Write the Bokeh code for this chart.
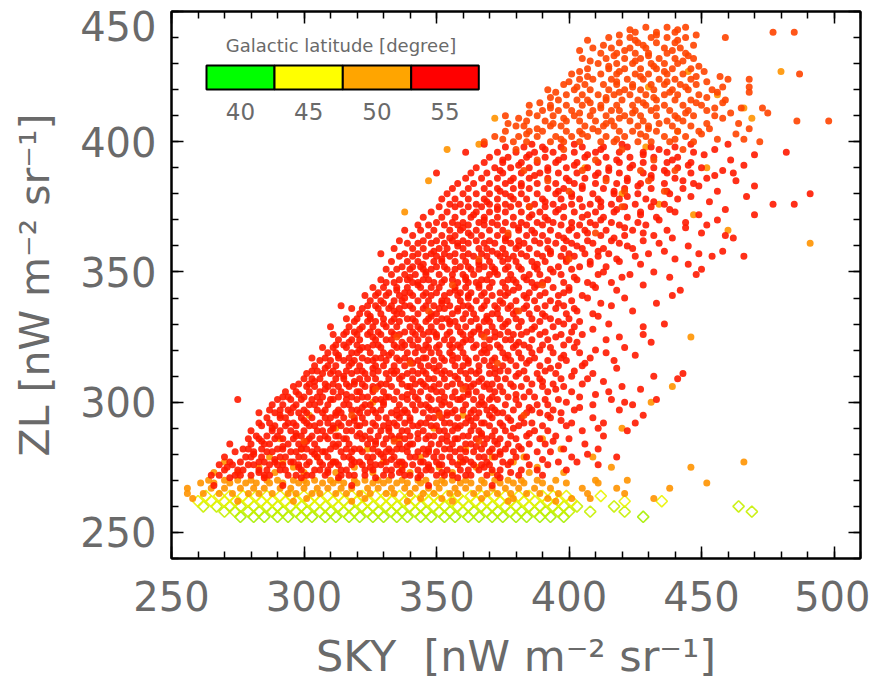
import numpy as np
from bokeh.plotting import figure
from bokeh.models import (LinearAxis, SingleIntervalTicker, FixedTicker, Label,
                          CustomJSTickFormatter)
from bokeh.embed import file_html
from bokeh.resources import INLINE

# ---------------- data ----------------
# rows of points: (ZL, [SKY values ...])
red_rows = [
    (268, [266, 292, 318, 347, 371]),
    (271, [272, 285, 299, 313, 327, 343, 358, 374]),
    (272, [265, 268, 274, 276, 280, 285, 287, 294, 297, 301, 303, 308, 314, 317, 319, 323, 330, 333, 338, 340, 344, 350, 353, 356, 361, 363, 369, 373, 381, 390]),
    (274, [270, 275, 277, 283, 286, 291, 293, 299, 304, 306, 309, 314, 316, 323, 326, 331, 333, 337, 343, 346, 348, 354, 359, 362, 366, 371, 374, 382, 388, 399]),
    (276, [268, 273, 279, 281, 287, 290, 292, 298, 301, 307, 310, 313, 318, 322, 327, 329, 335, 338, 341, 347, 351, 352, 358, 364, 367, 370, 377, 385, 392, 411]),
    (277, [272, 276, 283, 285, 289, 295, 296, 302, 306, 311, 312, 319, 321, 325, 331, 336, 337, 344, 345, 350, 356, 360, 363, 369, 375, 378, 396, 403]),
    (279, [270, 278, 280, 284, 291, 293, 298, 300, 305, 309, 315, 317, 324, 326, 330, 334, 340, 342, 349, 352, 355, 359, 366, 368, 372, 380, 384, 401, 418]),
    (281, [274, 281, 286, 288, 295, 297, 303, 307, 308, 314, 318, 322, 328, 331, 333, 339, 343, 347, 350, 357, 361, 364, 370, 374, 379, 388, 393]),
    (282, [277, 279, 284, 290, 292, 299, 301, 305, 310, 316, 319, 321, 326, 332, 335, 337, 345, 347, 353, 355, 359, 367, 371, 376, 382, 398, 411]),
    (284, [272, 280, 285, 287, 294, 298, 300, 304, 311, 313, 317, 324, 327, 330, 336, 340, 341, 348, 351, 356, 361, 363, 368, 373, 377, 385, 391, 406]),
    (286, [279, 283, 289, 292, 296, 302, 306, 309, 315, 316, 322, 325, 331, 334, 338, 343, 346, 352, 357, 358, 365, 369, 374, 380, 389, 400]),
    (287, [282, 286, 290, 297, 299, 303, 308, 312, 313, 320, 323, 328, 333, 336, 340, 347, 349, 354, 360, 362, 367, 371, 378, 384, 395, 413]),
    (289, [280, 288, 291, 295, 300, 305, 307, 310, 316, 318, 325, 329, 332, 337, 339, 345, 351, 353, 356, 363, 366, 372, 376, 387, 392, 405, 422]),
    (291, [284, 289, 293, 297, 302, 304, 311, 314, 320, 321, 327, 330, 335, 341, 343, 348, 350, 357, 359, 364, 370, 375, 381, 390, 399]),
    (292, [283, 287, 294, 296, 301, 306, 309, 313, 317, 323, 326, 332, 334, 338, 344, 346, 353, 355, 361, 367, 368, 374, 383, 386, 401, 413, 425]),
    (294, [286, 291, 293, 299, 303, 308, 310, 315, 319, 322, 328, 331, 336, 340, 347, 349, 352, 358, 362, 365, 371, 377, 382, 393, 409]),
    (296, [283, 289, 295, 298, 301, 307, 312, 314, 321, 324, 327, 333, 337, 339, 345, 351, 354, 356, 363, 366, 373, 375, 384, 389, 397]),
    (297, [287, 291, 294, 300, 305, 308, 313, 318, 320, 326, 329, 335, 338, 342, 348, 350, 357, 360, 364, 369, 372, 379, 386, 394, 402, 419]),
    (299, [288, 292, 297, 302, 304, 309, 315, 317, 323, 325, 330, 336, 341, 344, 346, 352, 355, 361, 366, 368, 376, 381, 388, 392, 409, 424]),
    (301, [275, 290, 295, 299, 303, 310, 311, 316, 320, 327, 329, 334, 339, 343, 348, 351, 358, 359, 364, 370, 373, 380, 391, 396, 416, 433]),
    (302, [292, 294, 300, 305, 307, 313, 318, 322, 324, 331, 332, 337, 342, 347, 353, 356, 360, 367, 371, 377, 383, 387, 404]),
    (304, [293, 297, 302, 306, 311, 314, 320, 321, 326, 330, 335, 341, 344, 350, 352, 357, 362, 365, 372, 375, 385, 392, 401, 415]),
    (306, [296, 301, 304, 309, 313, 317, 323, 326, 328, 333, 339, 340, 346, 349, 354, 361, 363, 368, 374, 379, 382, 390, 398, 420]),
    (307, [298, 302, 308, 311, 316, 319, 322, 329, 331, 337, 342, 345, 351, 356, 359, 364, 369, 371, 378, 386, 394, 405]),
    (309, [300, 303, 306, 312, 315, 321, 324, 327, 332, 336, 341, 347, 349, 353, 358, 362, 367, 373, 376, 384, 389, 397, 407, 441]),
    (311, [301, 307, 310, 313, 318, 323, 326, 331, 334, 339, 343, 346, 352, 355, 361, 365, 370, 372, 381, 388, 395, 409, 443]),
    (312, [303, 305, 311, 316, 320, 322, 328, 333, 335, 341, 345, 350, 353, 359, 363, 366, 374, 377, 383, 391, 402]),
    (314, [304, 309, 312, 317, 321, 327, 330, 334, 338, 344, 347, 351, 357, 360, 366, 370, 375, 380, 389, 396, 405]),
    (316, [306, 310, 315, 319, 324, 326, 331, 336, 340, 343, 349, 353, 356, 362, 368, 371, 378, 385, 392, 399, 417]),
    (317, [303, 308, 313, 317, 322, 327, 329, 335, 338, 345, 346, 352, 358, 361, 365, 372, 376, 382, 387, 397, 408]),
    (319, [309, 312, 318, 320, 325, 330, 333, 339, 342, 348, 351, 355, 360, 367, 369, 375, 381, 386, 394, 404, 414]),
    (321, [307, 311, 316, 322, 324, 329, 335, 337, 343, 347, 350, 356, 359, 364, 370, 374, 379, 385, 393, 402, 421]),
    (322, [312, 315, 320, 326, 328, 334, 338, 341, 346, 351, 355, 358, 365, 368, 373, 380, 383, 390, 398]),
    (324, [313, 318, 321, 327, 331, 333, 340, 343, 347, 353, 356, 361, 363, 370, 376, 378, 386, 392, 400, 414]),
    (326, [311, 315, 320, 324, 329, 334, 336, 342, 345, 350, 354, 360, 363, 367, 374, 379, 382, 389, 397, 405, 428]),
    (327, [316, 319, 325, 328, 333, 338, 341, 347, 349, 355, 359, 364, 369, 372, 377, 384, 391, 401]),
    (329, [310, 317, 322, 326, 331, 335, 340, 343, 348, 352, 358, 361, 366, 371, 375, 381, 387, 394, 402, 428]),
    (331, [319, 324, 327, 333, 336, 342, 346, 350, 355, 357, 363, 368, 370, 377, 382, 389, 396, 404]),
    (332, [316, 320, 325, 330, 334, 339, 341, 347, 352, 354, 360, 365, 369, 374, 380, 386, 393, 400]),
    (334, [321, 324, 329, 335, 337, 343, 348, 350, 356, 361, 364, 371, 373, 379, 385, 390, 399, 409]),
    (336, [318, 322, 328, 332, 336, 341, 345, 351, 353, 358, 363, 367, 373, 377, 383, 388, 395, 402]),
    (337, [314, 324, 327, 333, 338, 340, 346, 349, 355, 360, 362, 368, 372, 378, 384, 391, 398, 416]),
    (339, [325, 329, 334, 337, 343, 347, 352, 354, 359, 365, 369, 374, 380, 387, 393, 401]),
    (341, [323, 327, 331, 336, 341, 345, 348, 353, 358, 362, 367, 371, 376, 383, 389, 396, 405, 439]),
    (342, [328, 332, 338, 340, 346, 350, 355, 359, 363, 368, 374, 377, 385, 391, 398]),
    (344, [326, 330, 335, 339, 344, 348, 351, 357, 361, 366, 370, 376, 381, 387, 394, 400, 410]),
    (346, [331, 334, 341, 343, 349, 352, 358, 362, 365, 371, 375, 380, 386, 390, 398, 407, 416]),
    (347, [329, 336, 339, 345, 347, 353, 356, 361, 367, 369, 377, 379, 384, 392, 403]),
    (349, [333, 338, 342, 346, 351, 356, 360, 364, 370, 373, 378, 385, 389, 397, 411, 423, 448]),
    (351, [331, 335, 340, 345, 348, 354, 357, 363, 366, 372, 376, 382, 388, 393, 401, 450]),
    (352, [337, 341, 344, 350, 353, 359, 362, 368, 371, 377, 381, 387, 396, 404, 414]),
    (354, [333, 339, 343, 349, 352, 357, 361, 366, 370, 375, 380, 386, 391, 399, 408, 419]),
    (356, [336, 341, 346, 350, 355, 360, 364, 369, 374, 379, 384, 390, 397, 402, 411, 425, 454, 466]),
    (357, [329, 338, 343, 348, 353, 357, 362, 367, 373, 376, 382, 388, 393, 400, 406, 415, 430, 449]),
    (359, [334, 341, 345, 351, 354, 360, 366, 369, 375, 380, 385, 392, 398, 405, 413, 424]),
    (361, [339, 343, 348, 353, 358, 362, 368, 372, 378, 383, 389, 395, 401, 409, 419, 434]),
    (362, [336, 345, 350, 356, 360, 365, 370, 376, 381, 387, 392, 399, 407, 416, 428]),
    (364, [341, 347, 352, 357, 363, 367, 373, 377, 384, 390, 396, 403, 412, 421, 432, 459]),
    (366, [338, 344, 349, 355, 359, 365, 370, 375, 381, 386, 393, 400, 406, 414, 424, 437]),
    (368, [343, 347, 353, 358, 362, 368, 373, 379, 384, 390, 397, 404, 410, 419, 429, 452]),
    (369, [350, 356, 360, 366, 371, 376, 382, 388, 394, 401, 408, 416, 426, 444]),
    (371, [345, 352, 357, 363, 368, 373, 379, 385, 391, 398, 405, 413, 422, 433]),
    (373, [348, 354, 360, 365, 370, 376, 382, 389, 395, 402, 410, 417, 427, 440]),
    (375, [351, 357, 362, 367, 373, 378, 385, 391, 398, 405, 412, 421, 431]),
    (376, [355, 359, 365, 370, 376, 381, 387, 394, 401, 408, 416, 425, 436, 477, 485]),
    (378, [352, 357, 362, 368, 373, 379, 384, 390, 397, 404, 411, 419, 429, 441]),
    (380, [354, 360, 365, 370, 376, 382, 388, 395, 401, 409, 417, 426, 438, 491]),
    (382, [356, 362, 368, 373, 379, 385, 392, 398, 405, 413, 421, 431, 443]),
    (384, [358, 364, 370, 376, 382, 388, 395, 402, 410, 418, 427, 436, 447]),
    (386, [361, 367, 373, 379, 385, 392, 399, 406, 414, 422, 431, 440, 452]),
    (388, [350, 363, 369, 375, 382, 389, 396, 403, 411, 419, 428, 437, 446, 462]),
    (390, [365, 372, 378, 385, 392, 399, 407, 415, 423, 432, 441, 450]),
    (392, [368, 375, 382, 388, 395, 403, 411, 419, 428, 437, 446]),
    (394, [370, 377, 384, 391, 398, 406, 414, 423, 432, 441]),
    (396, [361, 373, 380, 387, 394, 402, 410, 419, 428, 437, 447, 482]),
    (398, [376, 383, 390, 397, 405, 413, 422, 431, 440]),
]

# extra red points lying between the rows above
red_fill_rows = [
    (273, [283, 309, 336, 352, 378]), (275, [271, 298, 325, 347, 368]),
    (278, [289, 318, 333, 361, 390]), (280, [281, 304, 329, 346, 374, 407]),
    (283, [292, 312, 339, 365, 381]), (285, [284, 301, 327, 354, 372, 394]),
    (288, [297, 321, 343, 367, 385]), (290, [288, 311, 332, 358, 379, 411]),
    (293, [300, 319, 340, 363, 378, 397]), (295, [291, 312, 335, 354, 370, 392, 428]),
    (298, [296, 322, 347, 371, 385, 404]), (300, [306, 330, 353, 367, 399, 421]),
    (303, [298, 316, 339, 362, 380, 410]), (305, [308, 326, 348, 370, 395, 427]),
    (308, [304, 319, 344, 366, 390, 413]), (310, [315, 337, 357, 380, 401, 432]),
    (313, [308, 326, 349, 372, 393, 418]), (315, [318, 341, 362, 384, 406]),
    (318, [313, 332, 356, 377, 398, 425]), (320, [321, 345, 368, 389, 410]),
    (323, [317, 337, 360, 381, 403, 431]), (325, [326, 350, 372, 395, 419]),
    (328, [321, 344, 366, 386, 409]), (330, [330, 355, 376, 398, 415, 436]),
    (333, [325, 348, 369, 391, 411]), (335, [334, 358, 380, 403, 424]),
    (338, [330, 352, 375, 396, 412, 433]), (340, [338, 362, 384, 407, 421]),
    (343, [335, 357, 379, 400, 418, 442]), (345, [343, 366, 388, 409, 428]),
    (348, [340, 361, 383, 402, 420, 438]), (350, [346, 372, 394, 413, 432]),
    (353, [345, 366, 388, 408, 427, 445]), (355, [352, 377, 399, 418, 440]),
    (358, [349, 371, 393, 411, 436, 458]), (360, [358, 381, 403, 422, 445]),
    (363, [355, 376, 398, 417, 439, 462]), (365, [362, 387, 407, 428, 450]),
    (367, [360, 381, 401, 421, 444]), (370, [368, 392, 412, 434, 456]),
    (372, [364, 386, 407, 427, 449, 470]), (374, [373, 396, 418, 438, 459]),
    (377, [369, 391, 412, 432, 453]), (379, [378, 401, 422, 446, 467]),
    (381, [374, 396, 417, 437, 456]), (383, [382, 405, 426, 449, 470]),
    (385, [378, 400, 422, 443, 463]), (387, [387, 410, 431, 455]),
    (389, [374, 392, 415, 436, 458]), (391, [381, 402, 424, 445, 466]),
    (393, [375, 396, 418, 439, 461]), (395, [385, 407, 428, 451, 470]),
    (397, [391, 412, 434, 455]), (399, [368, 386, 402, 420, 446, 460]),
]

mid_rows = [
    (285, [300, 334, 366]), (295, [318, 351, 383]), (305, [327, 360]),
    (315, [340, 373]), (325, [335, 368]), (335, [347, 381]),
    (345, [356, 390]), (355, [366, 400]), (365, [377, 410]),
    (375, [385, 420]), (381, [400, 421, 436]), (385, [392, 414, 430]),
    (389, [383, 405, 427, 440]), (393, [388, 410, 432]),
    (397, [380, 398, 420, 443]),
    (400, [368, 379, 384, 393, 398, 404, 412, 417, 426, 431, 438, 447, 472]),
    (401, [375, 397, 418, 440, 456, 466]),
    (402, [372, 381, 388, 395, 401, 407, 414, 421, 429, 436, 444]),
    (403, [384, 405, 427, 450, 463]),
    (404, [376, 385, 390, 399, 404, 411, 419, 424, 433, 441, 449]),
    (405, [388, 409, 430, 453, 468]),
    (406, [380, 383, 393, 397, 406, 413, 417, 426, 430, 439, 446]),
    (407, [377, 394, 414, 434, 452, 464]),
    (408, [384, 391, 399, 404, 410, 416, 423, 428, 437, 443, 486, 498]),
    (409, [381, 398, 419, 441, 458]),
    (410, [376, 388, 394, 402, 408, 414, 421, 427, 433, 440, 447, 455]),
    (411, [385, 404, 424, 444, 461, 475]),
    (412, [390, 396, 401, 409, 416, 419, 425, 431, 438, 445, 452]),
    (413, [393, 412, 433, 455, 465, 473]),
    (414, [385, 393, 399, 405, 412, 418, 424, 429, 436, 443, 450]),
    (415, [389, 408, 428, 448, 458]),
    (416, [396, 403, 407, 414, 420, 426, 433, 440, 446, 459]),
    (417, [393, 414, 432, 452]),
    (418, [399, 405, 411, 417, 423, 429, 436, 441, 449]),
    (419, [395, 419, 438, 456, 468]),
    (420, [392, 402, 408, 415, 421, 427, 432, 439, 445, 454]),
    (421, [403, 424, 444, 458, 468]),
    (422, [398, 406, 413, 418, 424, 431, 436, 442, 448]),
    (423, [400, 418, 437, 452]),
    (424, [404, 409, 416, 422, 428, 434, 440, 446, 460, 468]),
    (425, [407, 427, 448, 457]),
    (426, [401, 412, 418, 425, 430, 437, 443, 487]),
    (427, [404, 419, 436, 451]),
    (428, [407, 415, 421, 427, 433, 439, 446]),
    (429, [415, 432, 449]),
    (430, [411, 418, 424, 431, 436, 441]),
    (431, [408, 425, 443]),
    (432, [405, 414, 421, 427, 434, 440, 447]),
    (433, [417, 430, 445]),
    (434, [412, 418, 425, 430, 437, 444]),
    (435, [404, 421, 439]),
    (436, [409, 416, 423, 429, 436, 442]),
    (437, [413, 428, 447]),
    (438, [419, 426, 433, 440]),
    (439, [407, 425, 441]),
    (440, [415, 423, 431, 437, 444, 459]),
    (441, [419, 433, 448]),
    (442, [425, 433, 440, 477, 485]),
    (443, [423, 441]),
    (444, [429, 437, 444]),
]

orange_rows = [
    (262, [275, 296, 318, 339, 356, 377, 395]),
    (263, [258, 301, 323, 344, 352, 367, 379, 392, 401, 408, 432]),
    (265, [256, 262, 268, 273, 279, 283, 288, 294, 297, 303, 306, 312, 316, 321, 325, 331, 334, 340, 345, 349, 355, 358, 364, 369, 373, 378, 384, 389, 396, 407, 421]),
    (267, [256, 265, 270, 276, 281, 285, 291, 295, 300, 305, 309, 314, 318, 324, 328, 333, 338, 342, 347, 351, 357, 361, 366, 371, 376, 381, 387, 393, 405, 418, 438]),
    (269, [261, 266, 272, 278, 282, 287, 292, 298, 301, 307, 311, 315, 320, 326, 330, 335, 339, 344, 350, 353, 359, 363, 368, 374, 379, 383, 390, 399, 411, 452]),
    (270, [264, 270, 275, 280, 286, 290, 296, 300, 304, 310, 313, 319, 323, 328, 332, 337, 343, 346, 352, 356, 361, 367, 372, 377, 382, 388, 395, 410, 422]),
    (273, [266, 275, 289, 300, 312, 326, 340, 356, 371, 385, 398]),
    (275, [283, 296, 319, 337, 351, 365, 388, 416, 446]),
    (277, [270, 292, 311, 330, 359, 379, 466]),
    (279, [287, 305, 344, 371, 383, 409]),
    (282, [299, 324, 361, 397]),
    (286, [291, 336, 390]),
    (290, [312, 349, 420]),
    (295, [302, 360]),
    (300, [326, 431]),
    (306, [439]), (325, [446]), (361, [491]), (366, [460]), (372, [447]),
    (373, [338]), (376, [434]), (380, [420]), (385, [347]), (390, [406, 452]),
    (397, [354]), (398, [429]), (399, [366]), (404, [441]), (409, [372, 469]),
    (413, [466]), (418, [456]), (421, [430]), (427, [445, 480]),
]

# galactic-latitude band (hollow diamonds): (ZL, [SKY values ...])
band_yellow_rows = [
    (264, [263, 268, 272, 277, 282, 286, 291, 295, 300, 304, 309, 313, 318, 322, 327, 331, 336, 340, 345, 349, 354, 358, 363, 367, 372, 376, 381, 385, 390, 394, 399, 412]),
    (262, [260, 265, 270, 274, 279, 284, 288, 293, 297, 302, 306, 311, 315, 320, 324, 329, 333, 338, 342, 347, 351, 356, 360, 365, 369, 374, 378, 383, 387, 392, 396, 401, 421, 435]),
]
band_lime_rows = [
    (260, [262, 267, 272, 276, 281, 286, 290, 295, 299, 304, 308, 313, 317, 322, 326, 331, 335, 340, 344, 349, 353, 358, 362, 367, 371, 376, 380, 385, 389, 394, 398, 403, 417, 464]),
    (258, [270, 274, 279, 283, 288, 292, 297, 301, 306, 310, 315, 319, 324, 328, 333, 337, 342, 346, 351, 355, 360, 364, 369, 373, 378, 382, 387, 391, 396, 400, 408, 421, 469]),
]
band_green_rows = [
    (256, [276, 281, 285, 290, 294, 299, 303, 308, 312, 317, 321, 326, 330, 335, 339, 344, 348, 353, 357, 362, 366, 371, 375, 380, 384, 389, 393, 398, 428]),
]

lat_labels = ["40", "45", "50", "55"]
lat_colors = ["#00ff00", "#ffff00", "#ffa500", "#ff0000"]

zl_tick_values = [250, 300, 350, 400]
zl_top_tick = 450
tick_interval = 50


def expand(rows):
    xs, ys = [], []
    for zl, skies in rows:
        for s in skies:
            xs.append(s)
            ys.append(zl)
    return xs, ys


# ---------------- figure ----------------
X0, X1, Y0, Y1 = 250, 510, 240, 450
FONT = "DejaVu Sans"
GREY = "#6a6a6a"
W, H = 870, 686
FL, FR, FT, FB = 171, 860, 11, 558   # frame edges in page pixels


def px2x(px):
    return X0 + (px - FL) * (X1 - X0) / (FR - FL)


def py2y(py):
    return Y1 - (py - FT) * (Y1 - Y0) / (FB - FT)


p = figure(width=W, height=H, x_range=(X0, X1), y_range=(Y0, Y1),
           output_backend="svg", toolbar_location=None,
           min_border_left=FL, min_border_right=W - FR, min_border_top=FT,
           min_border_bottom=H - FB)
p.grid.visible = False
p.outline_line_color = "black"
p.outline_line_width = 2
p.background_fill_color = "white"
p.border_fill_color = "white"


def style_ticks(ax):
    ax.ticker = SingleIntervalTicker(interval=tick_interval, num_minor_ticks=5)
    ax.major_tick_in = 12
    ax.major_tick_out = 0
    ax.minor_tick_in = 7
    ax.minor_tick_out = 0
    ax.major_tick_line_color = "black"
    ax.major_tick_line_width = 1.5
    ax.minor_tick_line_color = "black"
    ax.minor_tick_line_width = 1.5
    ax.axis_line_color = "black"
    ax.axis_line_width = 2


def hide_labels(ax):
    ax.formatter = CustomJSTickFormatter(code="return ''")
    ax.major_label_text_font_size = "1px"
    ax.major_label_standoff = 0


# bottom axis
style_ticks(p.xaxis[0])
xa = p.xaxis[0]
xa.major_label_text_font = FONT
xa.major_label_text_font_size = "40px"
xa.major_label_text_color = GREY
xa.major_label_standoff = 22
xa.axis_label = "SKY \u00a0[nW m\u207b\u00b2 sr\u207b\u00b9]"
xa.axis_label_text_font = FONT
xa.axis_label_text_font_size = "43px"
xa.axis_label_text_color = GREY
xa.axis_label_text_font_style = "normal"
xa.axis_label_standoff = 17

# left axis: ticks only (next to the frame)
style_ticks(p.yaxis[0])
hide_labels(p.yaxis[0])

# left axis: labels only (the top label sits a little below its tick, as in the original)
top_label_pos = round(py2y(25.5), 1)
ya = LinearAxis(ticker=FixedTicker(ticks=zl_tick_values + [top_label_pos], minor_ticks=[]),
                major_label_overrides={top_label_pos: str(zl_top_tick)})
ya.axis_line_color = None
ya.major_tick_line_color = None
ya.minor_tick_line_color = None
ya.major_tick_in = 0
ya.major_tick_out = 0
ya.major_label_text_font = FONT
ya.major_label_text_font_size = "40px"
ya.major_label_text_color = GREY
ya.major_label_standoff = 15
ya.axis_label = "ZL [nW m\u207b\u00b2 sr\u207b\u00b9]"
ya.axis_label_text_font = FONT
ya.axis_label_text_font_size = "41px"
ya.axis_label_text_color = GREY
ya.axis_label_text_font_style = "normal"
ya.axis_label_standoff = 18
p.add_layout(ya, "left")

top_ax = LinearAxis()
style_ticks(top_ax)
hide_labels(top_ax)
p.add_layout(top_ax, "above")
right_ax = LinearAxis()
style_ticks(right_ax)
hide_labels(right_ax)
p.add_layout(right_ax, "right")

# ---------------- points ----------------
rx, ry = expand(red_rows)
fx, fy = expand(red_fill_rows)
mx, my = expand(mid_rows)
ox, oy = expand(orange_rows)
yx, yy = expand(band_yellow_rows)
lx, ly = expand(band_lime_rows)
gx, gy = expand(band_green_rows)

for bx, by, col in ((gx, gy, "#a6ee00"), (lx, ly, "#c6f000"), (yx, yy, "#eaf400")):
    p.scatter(bx, by, marker="square", angle=np.pi / 4, size=8, fill_color=None,
              line_color=col, line_width=1.6, line_alpha=0.9)
p.scatter(ox, oy, marker="circle", size=7, fill_color="#ff9400", line_color=None, fill_alpha=0.9)
p.scatter(rx + fx, ry + fy, marker="circle", size=7, fill_color="#ff1a00", line_color=None, fill_alpha=0.9)
p.scatter(mx, my, marker="circle", size=7, fill_color="#ff4400", line_color=None, fill_alpha=0.9)

# ---------------- colour legend ----------------
edges = [206, 274, 342.3, 410.7, 478.3]
p.quad(left=[px2x(e) for e in edges[:-1]], right=[px2x(e) for e in edges[1:]],
       top=[py2y(65)] * 4, bottom=[py2y(89)] * 4,
       fill_color=lat_colors, line_color="black", line_width=2)
p.add_layout(Label(x=px2x(340.5), y=py2y(45), text="Galactic latitude [degree]",
                   text_font=FONT, text_font_size="18px", text_color=GREY,
                   text_align="center", text_baseline="middle"))
for i, lab in enumerate(lat_labels):
    cx = (edges[i] + edges[i + 1]) / 2
    p.add_layout(Label(x=px2x(cx), y=py2y(110.7), text=lab, text_font=FONT,
                       text_font_size="23px", text_color=GREY,
                       text_align="center", text_baseline="middle"))

open("out.html", "w").write(file_html(p, INLINE))
